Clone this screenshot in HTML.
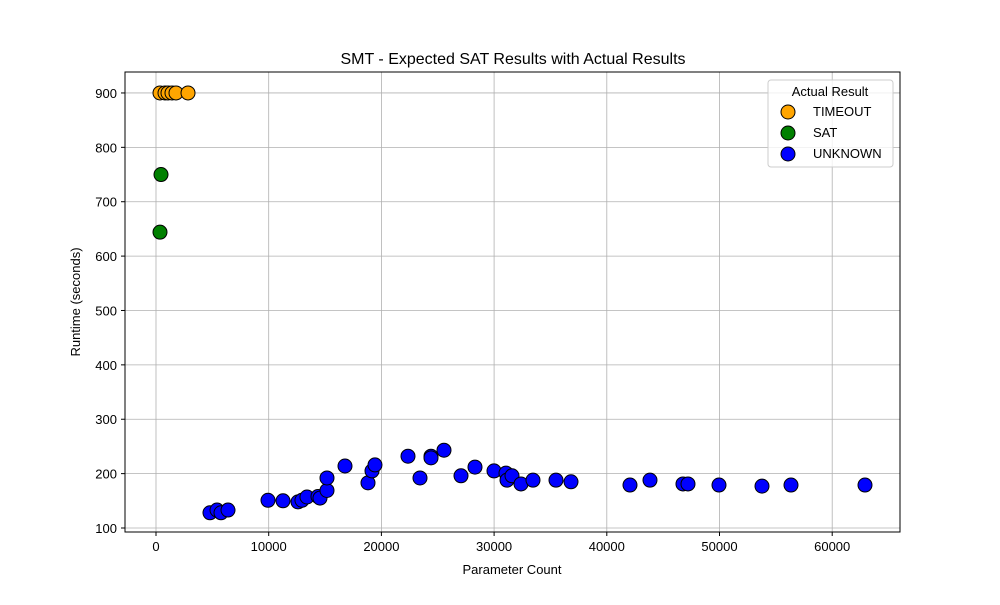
<!DOCTYPE html>
<html><head><meta charset="utf-8"><style>body{margin:0;background:#fff}svg{font-family:"Liberation Sans","DejaVu Sans",sans-serif}</style></head>
<body>
<svg id="chart" width="1000" height="600" xmlns="http://www.w3.org/2000/svg">
<rect width="1000" height="600" fill="#fff"/>
<text x="513" y="64" text-anchor="middle" font-size="16">SMT - Expected SAT Results with Actual Results</text>
<g id="grid"></g><g id="ticks"></g><g id="pts"></g>
<rect x="125" y="72" width="775" height="460" fill="none" stroke="#000" stroke-width="1"/>
<text x="512" y="574" text-anchor="middle" font-size="13">Parameter Count</text>
<text transform="translate(80,302) rotate(-90)" text-anchor="middle" font-size="13">Runtime (seconds)</text>
<g>
<rect x="768" y="80" width="125" height="87" rx="3" fill="#fff" fill-opacity="0.8" stroke="#ccc"/>
<text x="830" y="96" text-anchor="middle" font-size="13">Actual Result</text>
<g><circle cx="788" cy="112" r="7" fill="orange" stroke="#000"/><text x="813" y="116" font-size="13">TIMEOUT</text></g>
<g><circle cx="788" cy="133" r="7" fill="green" stroke="#000"/><text x="813" y="137" font-size="13">SAT</text></g>
<g><circle cx="788" cy="154" r="7" fill="blue" stroke="#000"/><text x="813" y="158" font-size="13">UNKNOWN</text></g>
</g>
</svg>
<script>
const xTicks=[0,10000,20000,30000,40000,50000,60000];
const yTicks=[100,200,300,400,500,600,700,800,900];
const timeoutX=[355,799,1065,1420,1775,2840];
const timeoutY=[900,900,900,900,900,900];
const satX=[444,355];
const satY=[750,644];
const unknownX=[4790,5413,5768,6389,9938,11269,12600,12950,13398,14374,14551,15172,15172,16770,18811,19166,19432,22360,23425,24401,24401,25554,27063,28305,29991,31056,31145,31588,32386,33451,35492,36823,42058,43832,46760,47204,49955,53771,56344,62910];
const unknownY=[128,133,128,133,151,150,148,151,157,158,155,169,192,214,183,205,216,232,192,232,229,243,196,212,205,201,188,196,181,188,188,185,179,188,181,181,179,177,179,179];
const NS='http://www.w3.org/2000/svg';
const xs=v=>156+v*0.011270, ys=v=>528-(v-100)*0.5438;
function mk(t,a,p){const e=document.createElementNS(NS,t);for(const k in a)e.setAttribute(k,a[k]);p.appendChild(e);return e;}
const grid=document.getElementById('grid'),ticks=document.getElementById('ticks'),pts=document.getElementById('pts');
xTicks.forEach(v=>{const x=xs(v);
const g=mk('line',{x1:x,x2:x,y1:72,y2:532,stroke:'#b0b0b0','stroke-width':0.8},grid);


const t=mk('line',{x1:x,x2:x,y1:532,y2:536,stroke:'#000'},ticks);


const l=mk('text',{x:x,y:551,'text-anchor':'middle','font-size':13},ticks);l.textContent=v;

});
yTicks.forEach(v=>{const y=ys(v);
const g=mk('line',{x1:125,x2:900,y1:y,y2:y,stroke:'#b0b0b0','stroke-width':0.8},grid);


const t=mk('line',{x1:121,x2:125,y1:y,y2:y,stroke:'#000'},ticks);


const l=mk('text',{x:117,y:y+5,'text-anchor':'end','font-size':13},ticks);l.textContent=v;

});
function series(X,Y,col,name){X.forEach((v,i)=>{const c=mk('circle',{cx:xs(v),cy:ys(Y[i]),r:7,fill:col,stroke:'#000','stroke-width':1},pts);

});}
series(timeoutX,timeoutY,'orange','timeout-point');
series(satX,satY,'green','sat-point');
series(unknownX,unknownY,'blue','unknown-point');
</script>
</body></html>
